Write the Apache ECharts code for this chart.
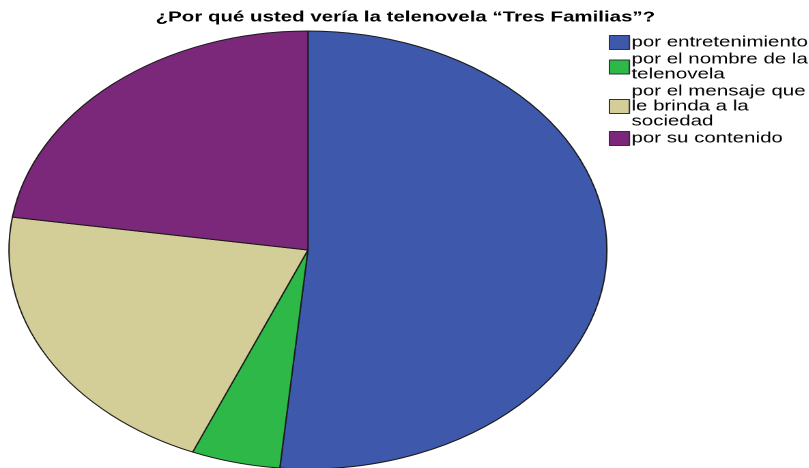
<!DOCTYPE html>
<html>
<head>
<meta charset="utf-8">
<script src="https://cdn.jsdelivr.net/npm/echarts@6/dist/echarts.min.js"></script>
<style>
  html, body { margin: 0; padding: 0; background: #fff; overflow: hidden; }
  /* el original es un grafico SPSS estirado en horizontal: se dibuja circular y se estira */
  #chart { width: 593px; height: 468px; transform: scaleX(1.365); transform-origin: 0 0; }
</style>
</head>
<body>
<div id="chart"></div>
<script>
  // categorias y porcentajes
  const categories = ['por entretenimiento', 'por el nombre de la telenovela', 'por el mensaje que le brinda a la sociedad', 'por su contenido'];
  const legendLabels = ['por entretenimiento', 'por el nombre de la\ntelenovela', 'por el mensaje que\nle brinda a la\nsociedad', 'por su contenido'];
  const values = [51.5, 4.8, 21.1, 22.6];
  const colors = ['#3e58ac', '#2eb848', '#d3ce97', '#7b277a'];

  const chart = echarts.init(document.getElementById('chart'), null, { devicePixelRatio: 2 });
  chart.setOption({
    animation: false,
    color: colors,
    title: {
      text: '¿Por qué usted vería la telenovela “Tres Familias”?',
      left: 114,
      top: 10,
      padding: 0,
      textStyle: { fontFamily: 'Liberation Sans', fontSize: 15, fontWeight: 'bold', color: '#000' }
    },
    legend: {
      orient: 'vertical',
      left: 446,
      top: 35,
      padding: 0,
      itemGap: 2,
      itemWidth: 14.6,
      itemHeight: 14,
      icon: 'rect',
      itemStyle: { borderColor: '#333', borderWidth: 1 },
      data: categories,
      formatter: name => legendLabels[categories.indexOf(name)],
      textStyle: { fontFamily: 'Liberation Sans', fontSize: 15, lineHeight: 15, color: '#000', padding: [0, 0, 0, -3.5] }
    },
    series: [{
      type: 'pie',
      center: [225.6, 250],
      radius: 219,
      startAngle: 90,
      clockwise: true,
      label: { show: false },
      labelLine: { show: false },
      emphasis: { scale: false },
      itemStyle: { borderColor: '#1a1a1a', borderWidth: 1 },
      data: categories.map((name, i) => ({ name: name, value: values[i] }))
    }]
  });
</script>
</body>
</html>
